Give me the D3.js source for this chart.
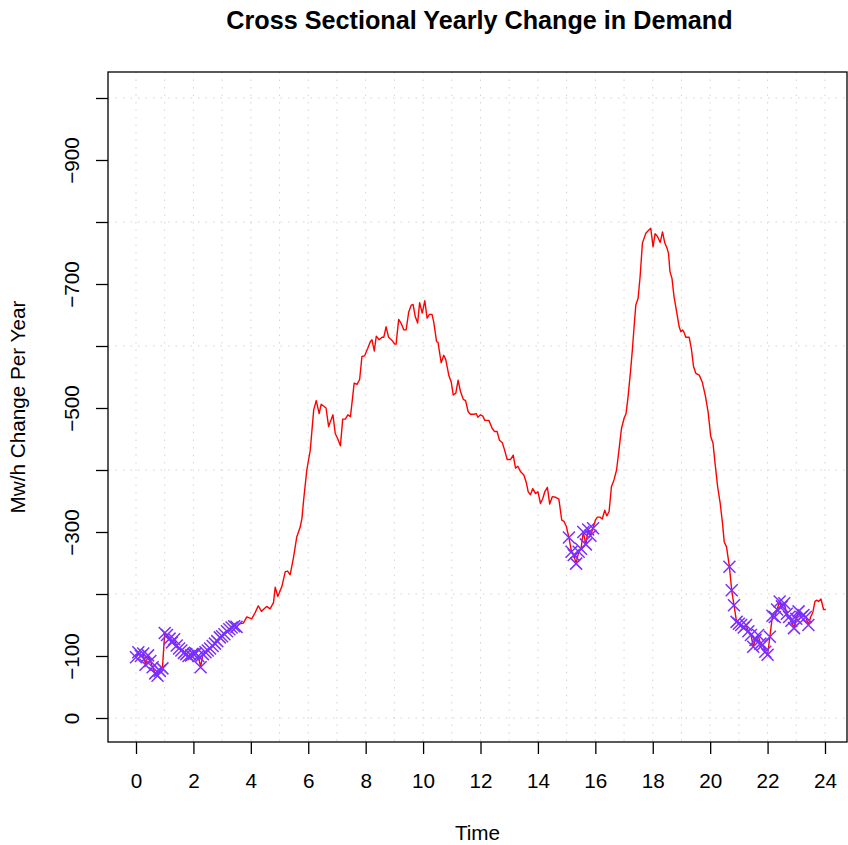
<!DOCTYPE html>
<html>
<head>
<meta charset="utf-8">
<script src="https://cdn.jsdelivr.net/npm/d3@7"></script>
<style>
  body { margin: 0; background: #fff; }
  svg { display: block; font-family: "Liberation Sans", Arial, sans-serif; }
</style>
</head>
<body>
<svg id="chart" width="848" height="845"></svg>
<script>
// hour of day and yearly change (Mw/h)
const hours = [
  0, 0.08, 0.17, 0.25, 0.33, 0.42, 0.5, 0.58, 0.67, 0.75, 0.83, 0.92, 1, 1.08, 1.17, 1.25, 1.33, 1.42, 1.5, 1.58,
  1.67, 1.75, 1.83, 1.92, 2, 2.08, 2.17, 2.25, 2.33, 2.42, 2.5, 2.58, 2.67, 2.75, 2.83, 2.92, 3, 3.08, 3.17, 3.25,
  3.33, 3.42, 3.5,
  3.6, 3.74, 3.86, 4.03, 4.15, 4.26, 4.37, 4.55, 4.67, 4.79, 4.85, 4.94, 5.08, 5.2, 5.28, 5.37, 5.49, 5.6, 5.72, 5.78,
  5.84, 5.95, 6.07, 6.19, 6.28, 6.38, 6.45, 6.62, 6.71, 6.77, 6.86, 6.94, 7.03, 7.12, 7.2, 7.29, 7.38, 7.47, 7.6, 7.7,
  7.79, 7.87, 7.96, 8.07, 8.16, 8.22, 8.3, 8.37, 8.47, 8.57, 8.63, 8.71, 8.8, 8.92, 9.01, 9.06, 9.15, 9.23, 9.33, 9.41,
  9.5, 9.59, 9.65, 9.73, 9.81, 9.88, 9.97, 10.06, 10.14, 10.22, 10.31, 10.37, 10.47, 10.52, 10.63, 10.72, 10.79, 10.9,
  10.98, 11.05, 11.14, 11.22, 11.3, 11.4, 11.48, 11.57, 11.65, 11.77, 11.85, 11.91, 12, 12.08, 12.15, 12.29, 12.41,
  12.49, 12.58, 12.66, 12.76, 12.84, 12.93, 13.05, 13.14, 13.22, 13.3, 13.4, 13.51, 13.6, 13.66, 13.74, 13.82, 13.92,
  14, 14.09, 14.17, 14.24, 14.33, 14.41, 14.5, 14.62, 14.73, 14.83, 14.91, 14.99,
  15.08, 15.17, 15.25, 15.33, 15.42, 15.5, 15.58, 15.67, 15.75, 15.83, 15.92,
  16, 16.07, 16.16, 16.24, 16.33, 16.4, 16.48, 16.56, 16.65, 16.74, 16.83, 16.91, 17, 17.07, 17.14, 17.23, 17.29,
  17.35, 17.41, 17.49, 17.56, 17.64, 17.7, 17.76, 17.84, 17.93, 18.01, 18.08, 18.16, 18.26, 18.34, 18.42, 18.49,
  18.55, 18.6, 18.67, 18.74, 18.84, 18.92, 18.98, 19.04, 19.09, 19.15, 19.27, 19.35, 19.42, 19.5, 19.62, 19.73,
  19.84, 19.93, 20.02, 20.1, 20.17, 20.26, 20.35, 20.43, 20.49, 20.57,
  20.67, 20.75, 20.83, 20.92, 21, 21.08, 21.17, 21.25, 21.33, 21.42, 21.5, 21.58, 21.67, 21.75, 21.83, 21.92, 22,
  22.08, 22.17, 22.25, 22.33, 22.42, 22.5, 22.58, 22.67, 22.75, 22.83, 22.92, 23, 23.08, 23.17, 23.25, 23.33, 23.42,
  23.5, 23.58, 23.65, 23.72, 23.78, 23.86, 23.95, 24.03
]
const demand = [
  -98, -106, -100, -104, -86, -101, -92, -82, -72, -68, -76, -80, -137, -134, -128, -122, -127, -117, -112, -109,
  -105, -103, -100, -101, -103, -104, -100, -82, -103, -106, -109, -112, -116, -120, -124, -130, -132, -135, -140, -143,
  -146, -148, -147,
  -152, -153, -163, -160, -170, -181, -172, -180, -176, -186, -211, -196, -212, -236, -237, -231, -260, -292, -308, -322,
  -352, -400, -432, -497, -512, -491, -506, -500, -470, -478, -489, -459, -450, -439, -482, -482, -489, -486, -540, -538,
  -546, -583, -584, -596, -607, -610, -592, -616, -610, -614, -614, -631, -614, -609, -603, -603, -643, -637, -626, -626,
  -655, -666, -667, -647, -637, -670, -653, -673, -645, -651, -651, -639, -607, -606, -573, -585, -578, -552,
  -542, -521, -524, -545, -527, -514, -512, -494, -490, -490, -491, -485, -489, -487, -480, -480, -467,
  -462, -462, -448, -444, -432, -417, -417, -424, -403, -406, -397, -392, -379, -365, -360, -370, -362,
  -365, -346, -354, -365, -372, -345, -357, -356, -353, -319, -317, -309,
  -291, -268, -263, -249, -268, -273, -300, -280, -304, -294, -306,
  -319, -324, -324, -321, -335, -326, -333, -373, -384, -400, -435, -467, -483, -491, -518, -561, -594,
  -631, -666, -677, -712, -766, -774, -782, -786, -790, -760, -781, -777, -767, -784, -766, -759,
  -749, -720, -709, -680, -653, -631, -623, -626, -622, -614, -614, -594, -567, -556, -553, -541,
  -518, -493, -454, -443, -411, -373, -346, -314, -284, -276,
  -244, -206, -182, -155, -152, -150, -146, -150, -140, -134, -115, -126, -134, -120, -118, -107, -102,
  -131, -165, -163, -175, -188, -180, -185, -168, -163, -157, -145, -160, -172, -163, -166, -163, -150,
  -163, -171, -188, -190, -188, -192, -175, -175
]
// hours where every point is flagged with a cross
const flaggedSpans = [[0, 3.5], [15.08, 15.92], [20.67, 23.42]]

const xTicks = [0, 2, 4, 6, 8, 10, 12, 14, 16, 18, 20, 22, 24]
const yTicks = [0, -100, -200, -300, -400, -500, -600, -700, -800, -900, -1000]
const yLabels = [0, -100, -300, -500, -700, -900] // the others get dropped like in the original
const gridHours = d3.range(0, 25)
const gridDemand = [0, -200, -400, -600, -800, -1000]

const box = {left: 108, right: 847, top: 72, bottom: 742}
const svg = d3.select("#chart")

const x = d3.scaleLinear().domain([0, 24]).range([136, 825])
const y = d3.scaleLinear().domain([0, -1000]).range([718, 98])

const points = hours.map((h, i) => ({h: h, v: demand[i]}))
const flagged = points.filter(p => flaggedSpans.some(s => p.h >= s[0] - 1e-6 && p.h <= s[1] + 1e-6))

// dotted grid
const grid = svg.append("g").attr("stroke", "#d3d3d3").attr("stroke-width", 1)
  .attr("stroke-dasharray", "1.5,6")
grid.selectAll(".gx").data(gridHours).join("line")
  .attr("x1", d => x(d)).attr("x2", d => x(d))
  .attr("y1", box.top).attr("y2", box.bottom)
grid.selectAll(".gy").data(gridDemand).join("line")
  .attr("x1", box.left).attr("x2", box.right)
  .attr("y1", d => y(d)).attr("y2", d => y(d))

// the red line
svg.append("path")
  .datum(points)
  .attr("fill", "none")
  .attr("stroke", "#ff0000")
  .attr("stroke-width", 1.4)
  .attr("stroke-linejoin", "round")
  .attr("d", d3.line().x(d => x(d.h)).y(d => y(d.v)))

// crosses (pch 4)
svg.append("g").selectAll("path").data(flagged).join("path")
  .attr("transform", d => `translate(${x(d.h)},${y(d.v)})`)
  .attr("d", "M-6,-6L6,6M-6,6L6,-6")
  .attr("stroke", "#7b2fff")
  .attr("stroke-width", 1.5)
  .attr("fill", "none")

// axes
const fmt = d3.format("d")
const xAxis = svg.append("g")
  .attr("transform", `translate(0,${box.bottom})`)
  .call(d3.axisBottom(x).tickValues(xTicks).tickSize(12).tickPadding(19).tickFormat(fmt))
xAxis.select(".domain").remove()

const yAxis = svg.append("g")
  .attr("transform", `translate(${box.left},0)`)
  .call(d3.axisLeft(y).tickValues(yTicks).tickSize(12)
    .tickFormat(d => yLabels.includes(d) ? fmt(d) : ""))
yAxis.select(".domain").remove()
yAxis.selectAll("text")
  .attr("x", null).attr("dy", null)
  .attr("text-anchor", "middle")
  .attr("transform", "translate(-29,0) rotate(-90)")

svg.selectAll(".tick line").attr("stroke", "#000").attr("stroke-width", 1.3)
svg.selectAll(".tick text").attr("fill", "#000").style("font-size", "20.7px")
  .style("font-family", '"Liberation Sans", Arial, sans-serif')

svg.append("rect")
  .attr("x", box.left).attr("y", box.top)
  .attr("width", box.right - box.left).attr("height", box.bottom - box.top)
  .attr("fill", "none").attr("stroke", "#000").attr("stroke-width", 1.3)

// titles
svg.append("text")
  .attr("x", (box.left + box.right) / 2 + 2).attr("y", 29)
  .attr("text-anchor", "middle")
  .style("font-size", "25.2px").style("font-weight", "bold")
  .text("Cross Sectional Yearly Change in Demand")

svg.append("text")
  .attr("x", (box.left + box.right) / 2).attr("y", 840)
  .attr("text-anchor", "middle")
  .style("font-size", "20.7px")
  .text("Time")

svg.append("text")
  .attr("transform", `translate(25,${(box.top + box.bottom) / 2}) rotate(-90)`)
  .attr("text-anchor", "middle")
  .style("font-size", "20.7px")
  .text("Mw/h Change Per Year")
</script>
</body>
</html>
